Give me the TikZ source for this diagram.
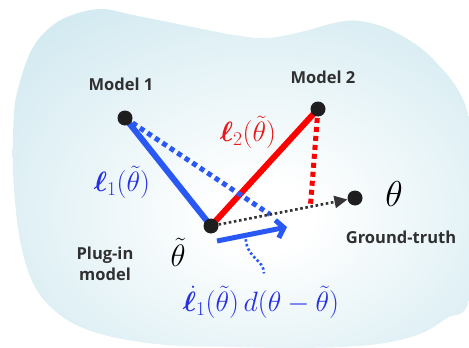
\RequirePackage{fix-cm}
\documentclass[tikz,border=0pt]{standalone}
\usepackage{fontspec}
\usepackage{amsmath,bm}
\usetikzlibrary{arrows.meta,calc,backgrounds}

\newfontfamily\labelfont{Open Sans}

\definecolor{blobblue}{RGB}{196,227,236}
\definecolor{lossblue}{RGB}{42,88,245}
\definecolor{mathblue}{RGB}{38,48,228}
\definecolor{lossred}{RGB}{255,0,0}
\definecolor{mathred}{RGB}{232,24,24}
\definecolor{dotgray}{RGB}{30,30,30}
\definecolor{labelgray}{RGB}{48,48,48}

\pgfdeclareradialshading{blobshading}{\pgfpoint{2bp}{-6bp}}{%
  color(0bp)=(white); color(5bp)=(white); color(44bp)=(blobblue); color(90bp)=(blobblue)}

\begin{document}
\begin{tikzpicture}[
    x=1pt, y=-1pt,
    dot/.style={circle, fill=dotgray, minimum size=15pt, inner sep=0pt},
    tag/.style={font=\labelfont\bfseries\fontsize{16.5}{21}\selectfont, text=labelgray, align=center},
    mathtag/.style={font=\fontsize{28}{32}\selectfont, inner sep=2pt},
    loss1/.style={draw=lossblue, line width=6pt},
    loss2/.style={draw=lossred, line width=6pt},
    proj1/.style={draw=lossblue, line width=5pt, dash pattern=on 5pt off 4pt},
    proj2/.style={draw=lossred, line width=5pt, dash pattern=on 5pt off 4pt},
    truthline/.style={draw=dotgray!90, line width=2.6pt, dash pattern=on 2.6pt off 2.6pt, -{Triangle[length=13pt,width=12pt]}},
    grad/.style={draw=lossblue, line width=5pt, -{Straight Barb[length=7pt,width=18pt]}},
    hint/.style={draw=lossblue, line width=2.6pt, dash pattern=on 2.4pt off 2.4pt}
]
\useasboundingbox (0,0) rectangle (469,348);

\node[dot] (m1) at (125,118) {};
\node[dot] (m2) at (318,109) {};
\node[dot] (plug) at (211,226) {};
\node[dot] (truth) at (355,198) {};

\node[tag] (m1tag) at (121,84) {Model 1};
\node[tag] (m2tag) at (323,77) {Model 2};
\node[tag] (plugtag) at (105,264) {Plug-in\\model};
\node[tag] (truthtag) at (401,237) {Ground-truth};

\node[mathtag, text=mathblue] (l1) at (122,182) {$\bm{\ell}_1(\tilde\theta)$};
\node[mathtag, text=mathred] (l2) at (248,132) {$\bm{\ell}_2(\tilde\theta)$};
\node[mathtag, font=\fontsize{36}{40}\selectfont] (th) at (394,194) {$\theta$};
\node[mathtag, font=\fontsize{31}{35}\selectfont] (tth) at (178,252) {$\tilde\theta$};
\node[mathtag, text=mathblue] (formula) at (261,302) {$\dot{\bm{\ell}}_1(\tilde\theta)\,d(\theta-\tilde\theta)$};

\coordinate (foot1) at ($(plug)!0.41!(truth)$);
\coordinate (foot2) at ($(plug)!0.69!(truth)$);
\coordinate (gstart) at ($(plug)+(6,15)$);
\coordinate (gend) at ($(plug)+(76,1)$);
\coordinate (gmid) at ($(gstart)!0.41!(gend)$);

\begin{scope}[on background layer]
\shade[shading=blobshading] plot[smooth cycle, tension=0.6] coordinates {
  (100,9) (133,15) (183,25) (234,35) (267,38) (301,32) (334,23) (360,21)
  (395,32) (434,60) (467,110) (478,200) (469,300) (447,318) (417,335)
  (370,345) (300,348) (235,347) (167,345) (117,338) (83,328) (60,315)
  (40,295) (27,268) (18,228) (13,170) (14,113) (19,85) (30,53) (45,32) (67,17)};
\draw[loss1] (m1.center) -- (plug.center);
\draw[loss2] (plug.center) -- (m2.center);
\draw[proj1] (m1.center) -- (foot1);
\draw[proj2] (m2.center) -- (foot2);
\end{scope}

\draw[truthline] (plug) -- (truth);
\draw[grad] (gstart) -- (gend);
\draw[hint] ([yshift=-4pt]gmid) .. controls +(2,20) and +(0,-14) .. ([xshift=3pt,yshift=10pt]formula.north);

\end{tikzpicture}
\end{document}
